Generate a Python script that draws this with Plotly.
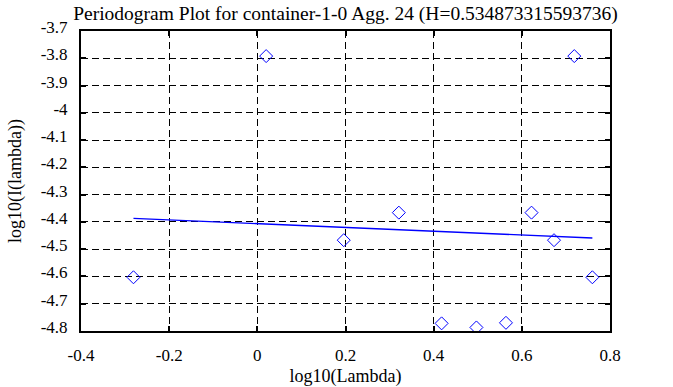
import plotly.graph_objects as go

log_lambda = [-0.281, 0.020, 0.196, 0.321, 0.418, 0.497, 0.564, 0.622, 0.673, 0.719, 0.760]
log_I = [-4.603, -3.792, -4.467, -4.366, -4.772, -4.787, -4.770, -4.366, -4.467, -3.792, -4.603]

fit_x = [-0.281, 0.760]
fit_y = [-4.387, -4.459]

x_ticks = [-0.4, -0.2, 0, 0.2, 0.4, 0.6, 0.8]
x_tick_text = ["-0.4", "-0.2", "0", "0.2", "0.4", "0.6", "0.8"]
y_ticks = [-3.7, -3.8, -3.9, -4.0, -4.1, -4.2, -4.3, -4.4, -4.5, -4.6, -4.7, -4.8]
y_tick_text = ["-3.7", "-3.8", "-3.9", "-4", "-4.1", "-4.2", "-4.3", "-4.4", "-4.5", "-4.6", "-4.7", "-4.8"]

title = "Periodogram Plot for container-1-0 Agg. 24 (H=0.534873315593736)"

font = "Liberation Serif"

fig = go.Figure()
fig.add_trace(go.Scatter(
    x=log_lambda, y=log_I, mode="markers",
    marker=dict(symbol="diamond-open", size=10, color="blue", line=dict(width=1, color="blue")),
    showlegend=False,
))
fig.add_trace(go.Scatter(
    x=fit_x, y=fit_y, mode="lines",
    line=dict(color="blue", width=1.3),
    showlegend=False,
))

axis_common = dict(
    showline=True, linecolor="black", linewidth=2, mirror="ticks",
    ticks="inside", ticklen=5, tickwidth=2, tickcolor="black",
    showgrid=True, gridcolor="black", gridwidth=1, griddash="7px,4px",
    zeroline=False, automargin=False,
    tickfont=dict(family=font, size=17, color="black"),
)

fig.update_xaxes(
    range=[-0.4, 0.8], tickvals=x_ticks, ticktext=x_tick_text,
    ticklabelstandoff=8,
    title=dict(text="log10(Lambda)", font=dict(family=font, size=18, color="black"), standoff=8),
    **axis_common,
)
fig.update_yaxes(
    range=[-4.8, -3.7], tickvals=y_ticks, ticktext=y_tick_text,
    ticklabelstandoff=8, ticklabelshift=-4,
    title=dict(text="log10(I(lambda))", font=dict(family=font, size=18, color="black"), standoff=14),
    **axis_common,
)

fig.update_layout(
    width=673, height=387,
    margin=dict(l=81, r=63, t=31, b=56),
    paper_bgcolor="white", plot_bgcolor="white",
    title=dict(text=title, font=dict(family=font, size=19.5, color="black"),
               xref="paper", x=0.5, xanchor="center",
               yref="container", y=0.966, yanchor="middle"),
)

fig.write_html(
    "out.html",
    config={"displayModeBar": False},
    post_script="document.body.style.margin='0';document.body.style.padding='0';document.body.style.overflow='hidden';",
)
